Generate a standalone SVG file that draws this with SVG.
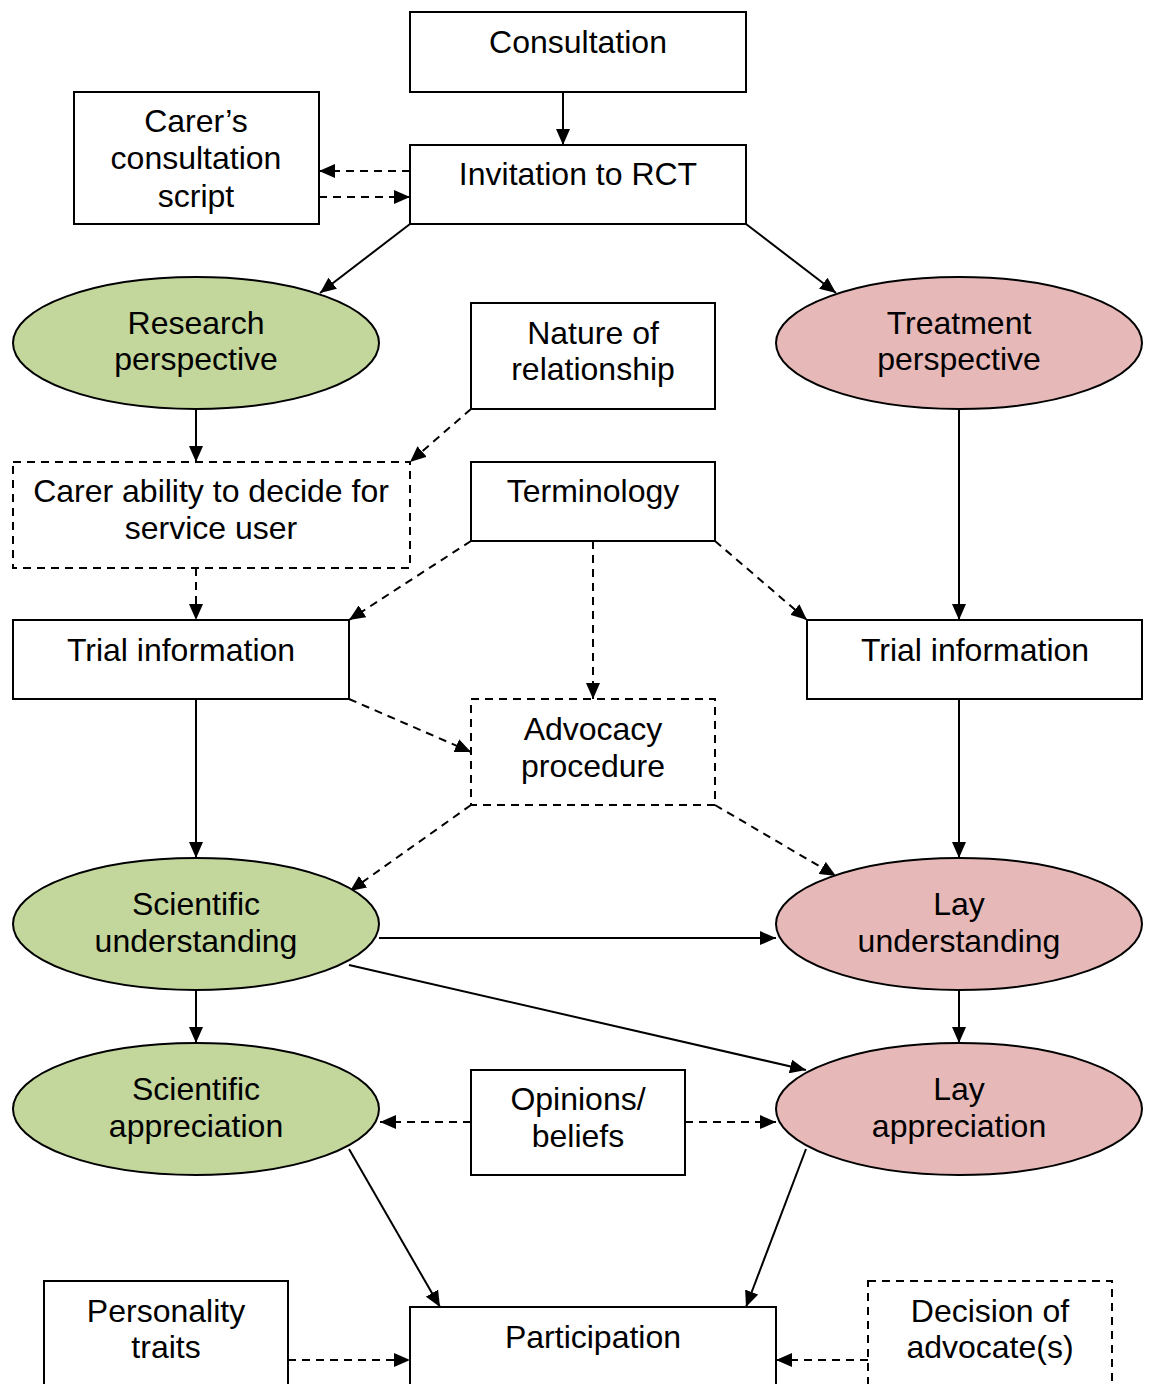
<svg xmlns="http://www.w3.org/2000/svg" width="1151" height="1384" viewBox="0 0 1151 1384">
<style>
.box{fill:#fff;stroke:#000;stroke-width:2}
.dbox{fill:#fff;stroke:#000;stroke-width:2;stroke-dasharray:8 6}
.green{fill:#C3D69B;stroke:#000;stroke-width:2}
.pink{fill:#E6B9B8;stroke:#000;stroke-width:2}
text{font-family:"Liberation Sans",Arial,sans-serif;font-size:32px;fill:#000;text-anchor:middle}
.c{fill:none;stroke:#000;stroke-width:2;marker-end:url(#ah)}
.d{fill:none;stroke:#000;stroke-width:2;stroke-dasharray:8 6;marker-end:url(#ah)}
</style>
<defs>
<marker id="ah" markerUnits="userSpaceOnUse" markerWidth="16" markerHeight="14" refX="16" refY="7" orient="auto" viewBox="0 0 16 14">
<path d="M0,0 L16,7 L0,14 z" fill="#000"/>
</marker>
</defs>
<rect width="1151" height="1384" fill="#fff"/>
<g id="connectors">
<line class="c" x1="563" y1="92" x2="563" y2="145"/>
<line class="d" x1="410" y1="171" x2="319" y2="171"/>
<line class="d" x1="319" y1="197" x2="410" y2="197"/>
<line class="c" x1="410" y1="224" x2="320" y2="293"/>
<line class="c" x1="746" y1="224" x2="836" y2="293"/>
<line class="c" x1="196" y1="409" x2="196" y2="462"/>
<line class="d" x1="471" y1="409" x2="410" y2="462"/>
<line class="d" x1="196" y1="568" x2="196" y2="620"/>
<line class="d" x1="471" y1="541" x2="349" y2="620"/>
<line class="d" x1="593" y1="541" x2="593" y2="699"/>
<line class="d" x1="715" y1="541" x2="807" y2="620"/>
<line class="c" x1="959" y1="409" x2="959" y2="620"/>
<line class="d" x1="349" y1="699" x2="471" y2="752"/>
<line class="c" x1="196" y1="699" x2="196" y2="858"/>
<line class="c" x1="959" y1="699" x2="959" y2="858"/>
<line class="d" x1="471" y1="805" x2="350" y2="891"/>
<line class="d" x1="715" y1="805" x2="836" y2="876"/>
<line class="c" x1="379" y1="938" x2="776" y2="938"/>
<line class="c" x1="349" y1="965" x2="806" y2="1070"/>
<line class="c" x1="196" y1="990" x2="196" y2="1043"/>
<line class="c" x1="959" y1="990" x2="959" y2="1043"/>
<line class="d" x1="471" y1="1122" x2="380" y2="1122"/>
<line class="d" x1="685" y1="1122" x2="776" y2="1122"/>
<line class="c" x1="349" y1="1149" x2="440" y2="1307"/>
<line class="c" x1="806" y1="1149" x2="746" y2="1307"/>
<line class="d" x1="288" y1="1360" x2="410" y2="1360"/>
<line class="d" x1="868" y1="1360" x2="776" y2="1360"/>
</g>
<g id="consultation"><rect class="box" x="410" y="12" width="336" height="80"/><text x="578" y="53">Consultation</text></g>
<g id="invitation"><rect class="box" x="410" y="145" width="336" height="79"/><text x="578" y="185">Invitation to RCT</text></g>
<g id="carers-script"><rect class="box" x="74" y="92" width="245" height="132"/><text x="196" y="132">Carer’s</text><text x="196" y="169">consultation</text><text x="196" y="207">script</text></g>
<g id="research-perspective"><ellipse class="green" cx="196" cy="343" rx="183" ry="66"/><text x="196" y="334">Research</text><text x="196" y="370">perspective</text></g>
<g id="nature-relationship"><rect class="box" x="471" y="303" width="244" height="106"/><text x="593" y="344">Nature of</text><text x="593" y="380">relationship</text></g>
<g id="treatment-perspective"><ellipse class="pink" cx="959" cy="343" rx="183" ry="66"/><text x="959" y="334">Treatment</text><text x="959" y="370">perspective</text></g>
<g id="carer-ability"><rect class="dbox" x="13" y="462" width="397" height="106"/><text x="211" y="502">Carer ability to decide for</text><text x="211" y="539">service user</text></g>
<g id="terminology"><rect class="box" x="471" y="462" width="244" height="79"/><text x="593" y="502">Terminology</text></g>
<g id="trial-info-left"><rect class="box" x="13" y="620" width="336" height="79"/><text x="181" y="661">Trial information</text></g>
<g id="trial-info-right"><rect class="box" x="807" y="620" width="335" height="79"/><text x="975" y="661">Trial information</text></g>
<g id="advocacy"><rect class="dbox" x="471" y="699" width="244" height="106"/><text x="593" y="740">Advocacy</text><text x="593" y="777">procedure</text></g>
<g id="scientific-understanding"><ellipse class="green" cx="196" cy="924" rx="183" ry="66"/><text x="196" y="915">Scientific</text><text x="196" y="952">understanding</text></g>
<g id="lay-understanding"><ellipse class="pink" cx="959" cy="924" rx="183" ry="66"/><text x="959" y="915">Lay</text><text x="959" y="952">understanding</text></g>
<g id="scientific-appreciation"><ellipse class="green" cx="196" cy="1109" rx="183" ry="66"/><text x="196" y="1100">Scientific</text><text x="196" y="1137">appreciation</text></g>
<g id="opinions"><rect class="box" x="471" y="1070" width="214" height="105"/><text x="578" y="1110">Opinions/</text><text x="578" y="1147">beliefs</text></g>
<g id="lay-appreciation"><ellipse class="pink" cx="959" cy="1109" rx="183" ry="66"/><text x="959" y="1100">Lay</text><text x="959" y="1137">appreciation</text></g>
<g id="personality"><rect class="box" x="44" y="1281" width="244" height="130"/><text x="166" y="1322">Personality</text><text x="166" y="1358">traits</text></g>
<g id="participation"><rect class="box" x="410" y="1307" width="366" height="100"/><text x="593" y="1348">Participation</text></g>
<g id="decision-advocate"><rect class="dbox" x="868" y="1281" width="244" height="130"/><text x="990" y="1322">Decision of</text><text x="990" y="1358">advocate(s)</text></g>
</svg>
